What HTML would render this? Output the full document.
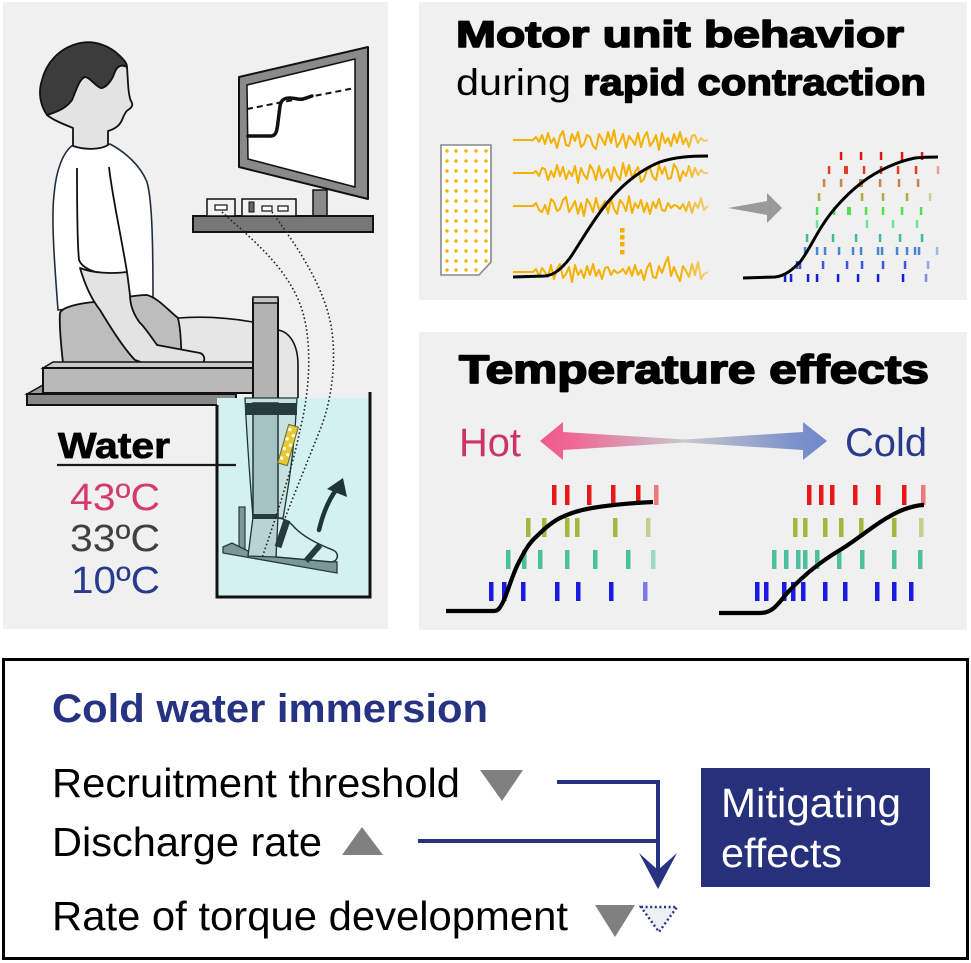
<!DOCTYPE html>
<html><head><meta charset="utf-8">
<style>
html,body{margin:0;padding:0;background:#fff;}
svg{display:block;}
text{font-family:"Liberation Sans",Arial,sans-serif;}
</style></head>
<body>
<svg width="971" height="963" viewBox="0 0 971 963" xmlns="http://www.w3.org/2000/svg">
<defs>
  <linearGradient id="emg" gradientUnits="userSpaceOnUse" x1="513" y1="0" x2="710" y2="0">
    <stop offset="0" stop-color="#f5b000"/>
    <stop offset="0.85" stop-color="#f5b000"/>
    <stop offset="1" stop-color="#f5b000" stop-opacity="0.45"/>
  </linearGradient>
  <linearGradient id="dbl" gradientUnits="userSpaceOnUse" x1="540" y1="0" x2="827" y2="0">
    <stop offset="0" stop-color="#f0588c"/>
    <stop offset="0.12" stop-color="#ee6a96"/>
    <stop offset="0.5" stop-color="#c9c6cc"/>
    <stop offset="0.88" stop-color="#7e93cc"/>
    <stop offset="1" stop-color="#6f88c8"/>
  </linearGradient>
</defs>
<rect width="971" height="963" fill="#fff"/>

<!-- ===== LEFT PANEL ===== -->
<rect x="3" y="2" width="385" height="627" fill="#f0f0f0"/>

<!-- monitor -->
<polygon points="239,77 368,47 368,199 239,167" fill="#8a8a8a" stroke="#111" stroke-width="2" stroke-linejoin="round"/>
<polygon points="247,85 355,59 355,187 248,159" fill="#fff" stroke="#111" stroke-width="1.5"/>
<line x1="247" y1="109" x2="355" y2="88" stroke="#111" stroke-width="2" stroke-dasharray="6,4"/>
<path d="M248,136 L271,136 C276,136 277,131 278,122 L280,106 C281,100 284,98 290,98 C296,98 298,100 303,99 C306,98 309,97 312,96" fill="none" stroke="#111" stroke-width="3.5" stroke-linecap="round"/>
<rect x="313" y="190" width="14" height="26" fill="#8a8a8a" stroke="#111" stroke-width="1.5"/>
<rect x="193" y="216" width="180" height="16" fill="#777" stroke="#111" stroke-width="2"/>
<rect x="207" y="199" width="28" height="17" fill="#f2f2f2" stroke="#111" stroke-width="1.5"/>
<rect x="215" y="205" width="12" height="5" fill="#fff" stroke="#111" stroke-width="1.2"/>
<rect x="242" y="199" width="54" height="17" fill="#f2f2f2" stroke="#111" stroke-width="1.5"/>
<rect x="249" y="202" width="5" height="10" fill="#666" stroke="#111" stroke-width="1"/>
<rect x="262" y="206" width="10" height="5" fill="#fff" stroke="#111" stroke-width="1.2"/>
<rect x="278" y="206" width="10" height="5" fill="#fff" stroke="#111" stroke-width="1.2"/>

<!-- shirt -->
<path d="M73,145 C85,150 100,150 110,144 C125,152 140,165 147,182 C152,200 153,240 153,300 L58,310 C55,270 51,220 54,195 C56,170 63,152 73,145 Z" fill="#fff" stroke="#1f2e3e" stroke-width="1.6"/>
<!-- face / neck -->
<path d="M47,115 C53,120 63,124 73,128 L73,146 C85,150 100,150 108,145 L108,131 C115,129 120,125 122,120 C124,115 126,111 128,110 C133,107 133,104 131,101 C128,95 128,80 127,67 C120,63 116,68 114,74 C112,80 106,88 101,88 C95,86 90,77 85,77 C80,78 76,90 72,100 C67,107 60,111 47,115 Z" fill="#e3e3e3" stroke="#111" stroke-width="1.8" stroke-linejoin="round"/>
<!-- hair -->
<path d="M47,115 C40,105 38,92 42,80 C46,64 58,48 80,43 C95,40 110,46 120,56 C124,60 127,63 127,67 C120,63 116,68 114,74 C112,80 106,88 101,88 C95,86 90,77 85,77 C80,78 76,90 72,100 C67,107 60,111 47,115 Z" fill="#3c3c3c" stroke="#111" stroke-width="1.8" stroke-linejoin="round"/>
<!-- sleeve lines -->
<path d="M77,168 C77,200 77,240 79,260 C82,268 95,274 110,274 C118,274 124,273 127,272" fill="none" stroke="#111" stroke-width="1.8"/>
<path d="M109,167 C112,195 120,230 127,272" fill="none" stroke="#111" stroke-width="1.8"/>

<!-- hip -->
<path d="M60,313 C62,307 80,303 95,302 C115,300 130,295 147,295 C158,298 168,310 178,318 C181,330 181,345 182,363 L63,363 C61,345 59,325 60,313 Z" fill="#bdbdbd" stroke="#111" stroke-width="1.8"/>
<!-- thigh -->
<path d="M178,318 C205,316 230,318 253,322 L253,363 L182,363 C181,345 181,330 178,318 Z" fill="#e6e6e6" stroke="#111" stroke-width="1.6"/>
<!-- knee behind post -->
<path d="M278,330 C290,332 298,345 298,365 L298,400 L278,400 Z" fill="#e6e6e6" stroke="#111" stroke-width="1.6"/>
<!-- arm + hand -->
<path d="M80,268 C85,285 92,300 100,310 C112,330 125,350 135,360 C150,366 165,367 180,367 L198,366 C206,364 206,355 200,353 L157,345 C150,335 143,325 140,323 C134,315 130,305 130,295 L127,272 C112,274 92,273 80,268 Z" fill="#e3e3e3" stroke="#111" stroke-width="1.8" stroke-linejoin="round"/>

<!-- seat -->
<polygon points="27,394 43,385 236,385 236,394" fill="#999" stroke="#111" stroke-width="1.5"/>
<rect x="27" y="394" width="209" height="11" fill="#888" stroke="#111" stroke-width="2"/>
<polygon points="43,368 53,362 253,362 253,368" fill="#c9c9c9" stroke="#111" stroke-width="1.5"/>
<rect x="43" y="368" width="210" height="25" fill="#b9b9b9" stroke="#111" stroke-width="2"/>
<!-- post -->
<rect x="253" y="299" width="25" height="100" fill="#b3b3b3" stroke="#111" stroke-width="2"/>
<rect x="253" y="297" width="25" height="6" fill="#c4c4c4" stroke="#111" stroke-width="1.5"/>

<!-- water -->
<rect x="217" y="398" width="153" height="199" fill="#d4f1f1"/>
<!-- leg in water -->
<path d="M245,398 L297,398 C295,440 290,480 283,518 L253,518 C250,480 247,440 245,398 Z" fill="#c8e2e2" stroke="#1f3535" stroke-width="1.3"/>
<rect x="253" y="403" width="25" height="114" fill="#a6c3c3" stroke="#1f3535" stroke-width="1.5"/>
<rect x="245" y="403" width="52" height="12" fill="#263c3c"/>
<g transform="rotate(16 288 445)">
<rect x="283" y="425" width="10" height="40" fill="#e6c830" stroke="#6a6a3a" stroke-width="1"/>
<rect x="284" y="428" width="3" height="3" fill="#fff"/><rect x="289" y="433" width="3" height="3" fill="#fff"/>
<rect x="284" y="438" width="3" height="3" fill="#fff"/><rect x="289" y="443" width="3" height="3" fill="#fff"/>
<rect x="284" y="448" width="3" height="3" fill="#fff"/><rect x="289" y="453" width="3" height="3" fill="#fff"/>
<rect x="284" y="458" width="3" height="3" fill="#fff"/>
</g>
<rect x="239" y="507" width="6" height="42" fill="#7a9898" stroke="#2a3a3a" stroke-width="1.2"/>
<polygon points="223,547 232,543 250,552 337,562 337,573 223,553" fill="#7a9898" stroke="#2a3a3a" stroke-width="1.3"/>
<path d="M276,518 C285,518 290,522 295,528 C305,538 320,545 333,550 C339,553 339,560 332,562 L276,557 Z" fill="#d6efef" stroke="#1f3535" stroke-width="1.5"/>
<polygon points="253,517 278,517 276,557 248,556" fill="#b9d3d3" stroke="#1f3535" stroke-width="1.3"/>
<rect x="253" y="514" width="25" height="5" fill="#263c3c"/>
<line x1="287" y1="520" x2="278" y2="547" stroke="#263c3c" stroke-width="7"/>
<line x1="320" y1="545" x2="306" y2="561" stroke="#263c3c" stroke-width="6"/>
<path d="M319,530 Q325,505 336,490" fill="none" stroke="#1f3535" stroke-width="4.5" stroke-linecap="round"/>
<polygon points="343,478 327,489 347,497" fill="#1f3535"/>
<!-- tank walls -->
<path d="M217,405 V597 H370 V392" fill="none" stroke="#111" stroke-width="3"/>

<!-- cables -->
<path d="M222,212 C250,238 290,268 303,313 C312,345 310,390 300,430 C292,470 275,520 262,558" fill="none" stroke="#222" stroke-width="1.6" stroke-dasharray="1.6,2.4"/>
<path d="M272,212 C292,240 322,280 331,325 C337,360 332,400 320,430 C310,455 296,490 285,518" fill="none" stroke="#222" stroke-width="1.6" stroke-dasharray="1.6,2.4"/>

<!-- water labels -->
<line x1="57" y1="465" x2="236" y2="465" stroke="#1a1a1a" stroke-width="2.2"/>
<text x="58" y="458" font-size="36" font-weight="bold" fill="#000" stroke="#000" stroke-width="0.8" textLength="112" lengthAdjust="spacingAndGlyphs">Water</text>
<text x="70" y="510" font-size="38" fill="#d33b6b" textLength="90" lengthAdjust="spacingAndGlyphs">43ºC</text>
<text x="70" y="551" font-size="38" fill="#404040" textLength="90" lengthAdjust="spacingAndGlyphs">33ºC</text>
<text x="71" y="593" font-size="38" fill="#283a8c" textLength="89" lengthAdjust="spacingAndGlyphs">10ºC</text>

<!-- ===== TOP RIGHT PANEL ===== -->
<rect x="419" y="2" width="548" height="298" fill="#f0f0f0"/>
<text x="456" y="47" font-size="37" font-weight="bold" fill="#000" stroke="#000" stroke-width="1.6" stroke-linejoin="round" textLength="448" lengthAdjust="spacingAndGlyphs">Motor unit behavior</text>
<text x="456" y="95" font-size="37" fill="#000" textLength="115" lengthAdjust="spacingAndGlyphs">during</text>
<text x="583" y="95" font-size="37" font-weight="bold" fill="#000" stroke="#000" stroke-width="1.4" stroke-linejoin="round" textLength="343" lengthAdjust="spacingAndGlyphs">rapid contraction</text>

<!-- electrode grid -->
<path d="M441,145 H491 V262 L479,275 H441 Z" fill="#fff" stroke="#888" stroke-width="1.6"/>
<g fill="#f5b000">
<circle cx="447" cy="151" r="1.7"/><circle cx="456" cy="151" r="1.7"/><circle cx="466" cy="151" r="1.7"/><circle cx="476" cy="151" r="1.7"/><circle cx="486" cy="151" r="1.7"/>
<circle cx="447" cy="161" r="1.7"/><circle cx="456" cy="161" r="1.7"/><circle cx="466" cy="161" r="1.7"/><circle cx="476" cy="161" r="1.7"/><circle cx="486" cy="161" r="1.7"/>
<circle cx="447" cy="171" r="1.7"/><circle cx="456" cy="171" r="1.7"/><circle cx="466" cy="171" r="1.7"/><circle cx="476" cy="171" r="1.7"/><circle cx="486" cy="171" r="1.7"/>
<circle cx="447" cy="181" r="1.7"/><circle cx="456" cy="181" r="1.7"/><circle cx="466" cy="181" r="1.7"/><circle cx="476" cy="181" r="1.7"/><circle cx="486" cy="181" r="1.7"/>
<circle cx="447" cy="191" r="1.7"/><circle cx="456" cy="191" r="1.7"/><circle cx="466" cy="191" r="1.7"/><circle cx="476" cy="191" r="1.7"/><circle cx="486" cy="191" r="1.7"/>
<circle cx="447" cy="201" r="1.7"/><circle cx="456" cy="201" r="1.7"/><circle cx="466" cy="201" r="1.7"/><circle cx="476" cy="201" r="1.7"/><circle cx="486" cy="201" r="1.7"/>
<circle cx="447" cy="211" r="1.7"/><circle cx="456" cy="211" r="1.7"/><circle cx="466" cy="211" r="1.7"/><circle cx="476" cy="211" r="1.7"/><circle cx="486" cy="211" r="1.7"/>
<circle cx="447" cy="221" r="1.7"/><circle cx="456" cy="221" r="1.7"/><circle cx="466" cy="221" r="1.7"/><circle cx="476" cy="221" r="1.7"/><circle cx="486" cy="221" r="1.7"/>
<circle cx="447" cy="231" r="1.7"/><circle cx="456" cy="231" r="1.7"/><circle cx="466" cy="231" r="1.7"/><circle cx="476" cy="231" r="1.7"/><circle cx="486" cy="231" r="1.7"/>
<circle cx="447" cy="241" r="1.7"/><circle cx="456" cy="241" r="1.7"/><circle cx="466" cy="241" r="1.7"/><circle cx="476" cy="241" r="1.7"/><circle cx="486" cy="241" r="1.7"/>
<circle cx="447" cy="251" r="1.7"/><circle cx="456" cy="251" r="1.7"/><circle cx="466" cy="251" r="1.7"/><circle cx="476" cy="251" r="1.7"/><circle cx="486" cy="251" r="1.7"/>
<circle cx="447" cy="261" r="1.7"/><circle cx="456" cy="261" r="1.7"/><circle cx="466" cy="261" r="1.7"/><circle cx="476" cy="261" r="1.7"/><circle cx="486" cy="261" r="1.7"/>
<circle cx="447" cy="270" r="1.7"/><circle cx="456" cy="270" r="1.7"/><circle cx="466" cy="270" r="1.7"/><circle cx="476" cy="270" r="1.7"/>
</g>
<!-- EMG traces -->
<g fill="none" stroke="url(#emg)" stroke-width="2" stroke-linejoin="round">
<polyline points="513,140 533,140 536,137 539,142 542,135 545,144 548,133 551,143 554,138 557,148 560,136 563,131 566,145 569,146 572,134 575,141 578,132 581,147 584,144 587,135 590,137 593,146 596,149 599,134 602,139 605,145 608,132 611,143 614,130 617,147 620,142 623,134 626,148 629,136 632,140 635,145 638,133 641,147 644,137 647,132 650,146 653,142 656,135 659,150 662,133 665,143 668,138 671,146 674,134 677,143 680,132 683,144 686,138 689,147 692,136 695,135 698,143 701,138 704,141 708,140"/>
<polyline points="513,173 533,173 536,171 539,176 542,168 545,169 548,180 551,171 554,177 557,165 560,176 563,167 566,179 569,171 572,176 575,166 578,183 581,168 584,175 587,179 590,165 593,170 596,180 599,166 602,178 605,173 608,169 611,181 614,167 617,175 620,180 623,163 626,176 629,165 632,178 635,172 638,167 641,182 644,179 647,170 650,168 653,177 656,180 659,165 662,174 665,167 668,179 671,178 674,164 677,169 680,181 683,171 686,176 689,166 692,177 695,168 698,175 701,170 704,173 708,173"/>
<polyline points="513,206 533,206 536,203 539,210 542,212 545,205 548,214 551,199 554,202 557,211 560,209 563,200 566,197 569,212 572,207 575,201 578,214 581,203 584,216 587,199 590,204 593,212 596,198 599,210 602,206 605,201 608,213 611,199 614,209 617,214 620,200 623,204 626,211 629,196 632,213 635,203 638,208 641,200 644,212 647,203 650,214 653,202 656,208 659,199 662,210 665,211 668,203 671,208 674,205 677,206 680,209 683,204 686,211 689,202 692,213 695,203 698,208 701,198 704,210 708,206"/>
<polyline points="513,272 533,272 536,269 539,276 542,268 545,272 548,277 551,265 554,279 557,269 560,264 563,278 566,274 569,267 572,282 575,265 578,275 581,270 584,278 587,266 590,275 593,264 596,276 599,270 602,279 605,268 608,267 611,275 614,270 617,273 620,272 623,269 626,274 629,267 632,276 635,265 638,275 641,270 644,280 647,268 650,263 653,277 656,278 659,266 662,273 665,264 668,257 671,276 674,267 677,275 680,281 683,266 686,271 689,277 692,264 695,275 698,262 701,279 704,274 708,272"/>
</g>
<g fill="#f5b000">
<rect x="620" y="228" width="4.5" height="4.5"/><rect x="620" y="235" width="4.5" height="4.5"/><rect x="620" y="242" width="4.5" height="4.5"/><rect x="620" y="250" width="4.5" height="4.5"/>
</g>
<path d="M513,277 L545,276 C555,275 562,268 570,258 C582,240 593,220 607,203 C622,185 640,170 660,162 C675,157 690,156 708,156" fill="none" stroke="#000" stroke-width="3"/>

<!-- gray arrow -->
<polygon points="728,208 767,201 767,193 782,208 767,223 767,215" fill="#9a9a9a"/>

<!-- raster top -->
<g>
<g fill="#e01515">
<rect x="839.8" y="152" width="2.5" height="8"/><rect x="859.8" y="152" width="2.5" height="8"/><rect x="879.8" y="152" width="2.5" height="8"/><rect x="900.8" y="152" width="2.5" height="8"/><rect x="920.8" y="152" width="2.5" height="8"/>
</g>
<g fill="#e0401c">
<rect x="827.8" y="166" width="2.5" height="8"/><rect x="844" y="166" width="4" height="8"/><rect x="862.8" y="166" width="2.5" height="8"/><rect x="879.8" y="166" width="2.5" height="8"/><rect x="896.8" y="166" width="2.5" height="8"/><rect x="914.8" y="166" width="2.5" height="8"/><rect x="936.8" y="166" width="2.5" height="8" opacity="0.45"/>
</g>
<g fill="#c8844a">
<rect x="822.8" y="179" width="2.5" height="8"/><rect x="839.8" y="179" width="2.5" height="8"/><rect x="859" y="179" width="4" height="8"/><rect x="878.8" y="179" width="2.5" height="8"/><rect x="897.8" y="179" width="2.5" height="8"/><rect x="916.8" y="179" width="2.5" height="8"/>
</g>
<g fill="#a8b040">
<rect x="817.8" y="193" width="2.5" height="8"/><rect x="860.8" y="193" width="2.5" height="8"/><rect x="881.8" y="193" width="2.5" height="8"/><rect x="905.8" y="193" width="2.5" height="8"/><rect x="928.8" y="193" width="2.5" height="8" opacity="0.5"/>
</g>
<g fill="#4ee04e">
<rect x="815.8" y="207" width="2.5" height="8"/><rect x="832.8" y="207" width="2.5" height="8"/><rect x="847" y="207" width="4" height="8"/><rect x="864.8" y="207" width="2.5" height="8"/><rect x="881.8" y="207" width="2.5" height="8"/><rect x="900.8" y="207" width="2.5" height="8"/><rect x="919.8" y="207" width="2.5" height="8"/>
</g>
<g fill="#66e69a">
<rect x="815.8" y="220" width="2.5" height="8"/><rect x="865.8" y="220" width="2.5" height="8"/><rect x="891.8" y="220" width="2.5" height="8"/><rect x="915.8" y="220" width="2.5" height="8"/>
</g>
<g fill="#40b8a0">
<rect x="805.8" y="234" width="2.5" height="8"/><rect x="831.8" y="234" width="2.5" height="8"/><rect x="854.8" y="234" width="2.5" height="8"/><rect x="878.8" y="234" width="2.5" height="8"/><rect x="898.8" y="234" width="2.5" height="8"/><rect x="920.8" y="234" width="2.5" height="8"/>
</g>
<g fill="#4a86d0">
<rect x="803.8" y="247" width="2.5" height="8"/><rect x="815.8" y="247" width="2.5" height="8"/><rect x="823.8" y="247" width="2.5" height="8"/><rect x="837.8" y="247" width="2.5" height="8"/><rect x="851.8" y="247" width="2.5" height="8"/><rect x="859.8" y="247" width="2.5" height="8"/><rect x="876.8" y="247" width="2.5" height="8"/><rect x="880.8" y="247" width="2.5" height="8"/><rect x="895.8" y="247" width="2.5" height="8"/><rect x="905.8" y="247" width="2.5" height="8"/><rect x="913.8" y="247" width="2.5" height="8"/><rect x="917.8" y="247" width="2.5" height="8"/><rect x="935.8" y="247" width="2.5" height="8" opacity="0.5"/>
</g>
<g fill="#3858e0">
<rect x="795.8" y="261" width="2.5" height="8"/><rect x="798.8" y="261" width="2.5" height="8"/><rect x="821.8" y="261" width="2.5" height="8"/><rect x="845.8" y="261" width="2.5" height="8"/><rect x="860.8" y="261" width="2.5" height="8"/><rect x="881.8" y="261" width="2.5" height="8"/><rect x="903.8" y="261" width="2.5" height="8"/><rect x="926.8" y="261" width="2.5" height="8" opacity="0.5"/>
</g>
<g fill="#1020e0">
<rect x="783.8" y="274" width="2.5" height="8"/><rect x="789.8" y="274" width="2.5" height="8"/><rect x="806.8" y="274" width="2.5" height="8"/><rect x="815.8" y="274" width="2.5" height="8"/><rect x="836.8" y="274" width="2.5" height="8"/><rect x="856.8" y="274" width="2.5" height="8"/><rect x="876.8" y="274" width="2.5" height="8"/><rect x="901.8" y="274" width="2.5" height="8"/><rect x="924.8" y="274" width="2.5" height="8" opacity="0.5"/>
</g>
</g>
<path d="M743,278 L775,277 C785,276 792,270 800,262 C808,252 813,240 822,226 C832,210 848,192 868,178 C885,167 900,161 915,158 C925,157 932,157 938,157" fill="none" stroke="#000" stroke-width="3"/>

<!-- ===== MIDDLE RIGHT PANEL ===== -->
<rect x="419" y="332" width="548" height="298" fill="#f0f0f0"/>
<text x="459" y="383" font-size="40" font-weight="bold" fill="#000" stroke="#000" stroke-width="1.7" stroke-linejoin="round" textLength="470" lengthAdjust="spacingAndGlyphs">Temperature effects</text>
<text x="459" y="456" font-size="40" fill="#cc3366" textLength="62" lengthAdjust="spacingAndGlyphs">Hot</text>
<text x="845" y="456" font-size="40" fill="#283a8c" textLength="82" lengthAdjust="spacingAndGlyphs">Cold</text>
<polygon points="540,441 563,422 563,432 685,439.5 803,432 803,422 827,441 803,460 803,450 685,442.5 563,450 563,460" fill="url(#dbl)"/>

<!-- hot raster -->
<g fill="#e81818">
<rect x="552" y="485" width="4.5" height="20"/><rect x="565" y="485" width="4.5" height="20"/><rect x="587" y="485" width="4.5" height="20"/><rect x="611" y="485" width="4.5" height="20"/><rect x="636" y="485" width="4.5" height="20"/><rect x="654" y="485" width="4.5" height="20" opacity="0.55"/>
</g>
<g fill="#a8b43c">
<rect x="526" y="518" width="4.5" height="19"/><rect x="542" y="518" width="4.5" height="19"/><rect x="565" y="518" width="4.5" height="19"/><rect x="575" y="518" width="4.5" height="19"/><rect x="613" y="518" width="4.5" height="19"/><rect x="646" y="518" width="4.5" height="19" opacity="0.55"/>
</g>
<g fill="#4cbfa0">
<rect x="506" y="550" width="4.5" height="19"/><rect x="522" y="550" width="4.5" height="19"/><rect x="538" y="550" width="4.5" height="19"/><rect x="565" y="550" width="4.5" height="19"/><rect x="593" y="550" width="4.5" height="19"/><rect x="626" y="550" width="4.5" height="19"/><rect x="651" y="550" width="4.5" height="19" opacity="0.5"/>
</g>
<g fill="#1a1ae0">
<rect x="489" y="582" width="4.5" height="19"/><rect x="502" y="582" width="4.5" height="19"/><rect x="521" y="582" width="4.5" height="19"/><rect x="555" y="582" width="4.5" height="19"/><rect x="576" y="582" width="4.5" height="19"/><rect x="609" y="582" width="4.5" height="19"/><rect x="643" y="582" width="4.5" height="19" opacity="0.55"/>
</g>
<path d="M446,611 L494,611 C499,611 501,606 504,600 C509,588 513,573 519,562 C525,550 530,542 537,536 C545,528 552,522 560,518 C570,513 580,510 592,508 C610,505 630,503 653,502" fill="none" stroke="#000" stroke-width="4.2"/>

<!-- cold raster -->
<g fill="#e81818">
<rect x="807" y="485" width="4.5" height="20"/><rect x="819" y="485" width="4.5" height="20"/><rect x="830" y="485" width="4.5" height="20"/><rect x="853" y="485" width="4.5" height="20"/><rect x="876" y="485" width="4.5" height="20"/><rect x="902" y="485" width="4.5" height="20"/><rect x="921" y="485" width="4.5" height="20" opacity="0.55"/>
</g>
<g fill="#a8b43c">
<rect x="793" y="518" width="4.5" height="19"/><rect x="803" y="518" width="4.5" height="19"/><rect x="823" y="518" width="4.5" height="19"/><rect x="839" y="518" width="4.5" height="19"/><rect x="859" y="518" width="4.5" height="19"/><rect x="892" y="518" width="4.5" height="19"/><rect x="919" y="518" width="4.5" height="19" opacity="0.55"/>
</g>
<g fill="#4cbfa0">
<rect x="772" y="550" width="4.5" height="19"/><rect x="784" y="550" width="4.5" height="19"/><rect x="796" y="550" width="4.5" height="19"/><rect x="803" y="550" width="4.5" height="19"/><rect x="815" y="550" width="4.5" height="19"/><rect x="837" y="550" width="4.5" height="19"/><rect x="860" y="550" width="4.5" height="19"/><rect x="892" y="550" width="4.5" height="19"/><rect x="918" y="550" width="4.5" height="19"/>
</g>
<g fill="#1a1ae0">
<rect x="755" y="582" width="4.5" height="19"/><rect x="764" y="582" width="4.5" height="19"/><rect x="782" y="582" width="4.5" height="19"/><rect x="791" y="582" width="4.5" height="19"/><rect x="801" y="582" width="4.5" height="19"/><rect x="823" y="582" width="4.5" height="19"/><rect x="843" y="582" width="4.5" height="19"/><rect x="875" y="582" width="4.5" height="19"/><rect x="892" y="582" width="4.5" height="19"/><rect x="909" y="582" width="4.5" height="19"/>
</g>
<path d="M719,613 L760,613 C775,613 780,600 790,590 C805,574 820,562 840,550 C860,538 878,521 900,511 C910,507 917,505 924,505" fill="none" stroke="#000" stroke-width="4.2"/>

<!-- ===== BOTTOM BOX ===== -->
<rect x="3.5" y="659.5" width="964" height="299" fill="#fff" stroke="#000" stroke-width="3"/>
<text x="52" y="722" font-size="40" font-weight="bold" fill="#263282" textLength="436" lengthAdjust="spacingAndGlyphs">Cold water immersion</text>
<text x="52" y="797" font-size="41" fill="#000" textLength="408" lengthAdjust="spacingAndGlyphs">Recruitment threshold</text>
<text x="52" y="856" font-size="41" fill="#000" textLength="270" lengthAdjust="spacingAndGlyphs">Discharge rate</text>
<text x="52" y="930" font-size="41" fill="#000" textLength="516" lengthAdjust="spacingAndGlyphs">Rate of torque development</text>

<polygon points="480,770 523,770 502,801" fill="#808080"/>
<polygon points="342,855 383,855 362,827" fill="#808080"/>
<polygon points="595,905 635,905 615,937" fill="#808080"/>
<polygon points="641,907 677,907 659,932" fill="#eef0f4" stroke="#263282" stroke-width="2.4" stroke-dasharray="2,2.6"/>

<path d="M557,782 H658 V874" fill="none" stroke="#263282" stroke-width="4"/>
<path d="M418,841 H658" fill="none" stroke="#263282" stroke-width="4"/>
<polygon points="639,853 658,870 677,853 658,889" fill="#263282"/>

<rect x="701" y="768" width="229" height="119" fill="#27307a"/>
<text x="721" y="817" font-size="41" fill="#fff" textLength="180" lengthAdjust="spacingAndGlyphs">Mitigating</text>
<text x="721" y="867" font-size="41" fill="#fff" textLength="121" lengthAdjust="spacingAndGlyphs">effects</text>
</svg>
</body></html>
